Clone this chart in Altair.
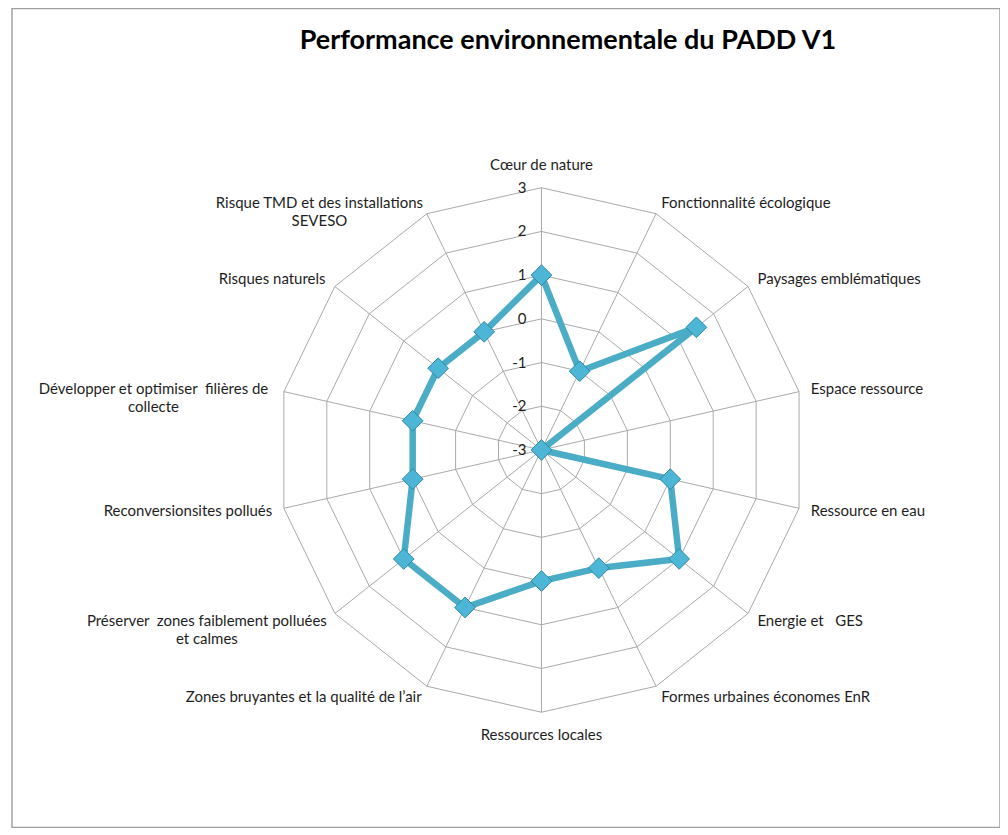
import altair as alt
import pandas as pd

# ---------------- data ----------------
title_text = "Performance environnementale du PADD V1"
categories = [
    "Cœur de nature",
    "Fonctionnalité écologique",
    "Paysages emblématiques",
    "Espace ressource",
    "Ressource en eau",
    "Energie et \u00a0 GES",
    "Formes urbaines économes EnR",
    "Ressources locales",
    "Zones bruyantes et la qualité de l’air",
    "Préserver \u00a0zones faiblement polluées\net calmes",
    "Reconversionsites pollués",
    "Développer et optimiser \u00a0filières de\ncollecte",
    "Risques naturels",
    "Risque TMD et des installations\nSEVESO",
]
values = [1, -1, 1.5, -3, 0, 1, 0, 0, 1, 1, 0, 0, 0, 0]
levels = [-3, -2, -1, 0, 1, 2, 3]

# ---------------- layout / style ----------------
W, H = 989, 820          # view size
CX, CY = 530, 442        # radar centre inside the view (px)
UX, UY = 44.08, 43.75    # px per unit on x / y
CHARW = 6.6              # approx label char width (px) for centring multi-line labels
FONT = "Lato"
FS = 15
GRID = "#a9a9a9"
LINE = "#4bacc6"
TXT = "#1e1e1e"

n = len(categories)
LMIN = levels[0]
RMAX = levels[-1] - levels[0]

base = pd.DataFrame({"idx": list(range(n)), "cat": categories, "value": values})
series = pd.concat([base, base.iloc[[0]]]).reset_index(drop=True)
series["ord"] = list(range(n + 1))
rings = pd.DataFrame(
    [(lv, k) for lv in levels[1:] for k in range(n + 1)], columns=["level", "ord"]
)
ticks = pd.DataFrame({"level": levels})

xs = alt.Scale(domain=[-CX / UX, (W - CX) / UX], nice=False, zero=False)
ys = alt.Scale(domain=[-(H - CY) / UY, CY / UY], nice=False, zero=False)


def X(f):
    return alt.X(f, type="quantitative", scale=xs, axis=None)


def Y(f):
    return alt.Y(f, type="quantitative", scale=ys, axis=None)


ANG = f"datum.ord * 2 * PI / {n}"
ANGI = f"datum.idx * 2 * PI / {n}"

ring_layer = (
    alt.Chart(rings)
    .transform_calculate(ang=ANG, r=f"datum.level - ({LMIN})")
    .transform_calculate(px="datum.r * sin(datum.ang)", py="datum.r * cos(datum.ang)")
    .mark_line(color=GRID, strokeWidth=1)
    .encode(x=X("px"), y=Y("py"), order="ord:Q", detail="level:N")
)

spoke_layer = (
    alt.Chart(base)
    .transform_calculate(ang=ANGI, x0="0", y0="0")
    .transform_calculate(x1=f"{RMAX} * sin(datum.ang)", y1=f"{RMAX} * cos(datum.ang)")
    .mark_rule(color=GRID, strokeWidth=1)
    .encode(x=X("x0"), y=Y("y0"), x2="x1:Q", y2="y1:Q")
)

series_layer = (
    alt.Chart(series)
    .transform_calculate(ang=ANG, r=f"datum.value - ({LMIN})")
    .transform_calculate(px="datum.r * sin(datum.ang)", py="datum.r * cos(datum.ang)")
    .mark_line(color=LINE, strokeWidth=6.5, strokeJoin="round")
    .encode(x=X("px"), y=Y("py"), order="ord:Q")
)

point_layer = (
    alt.Chart(base)
    .transform_calculate(ang=ANGI, r=f"datum.value - ({LMIN})")
    .transform_calculate(px="datum.r * sin(datum.ang)", py="datum.r * cos(datum.ang)")
    .mark_point(
        shape="diamond", filled=True, size=430, fill="#4db6d6",
        stroke="#2c88a6", strokeWidth=1, opacity=1,
    )
    .encode(x=X("px"), y=Y("py"))
)

tick_layer = (
    alt.Chart(ticks)
    .transform_calculate(px="0", py=f"datum.level - ({LMIN})", lbl="'' + datum.level")
    .mark_text(align="right", baseline="middle", dx=-15, font=FONT, fontSize=FS, color=TXT)
    .encode(x=X("px"), y=Y("py"), text="lbl:N")
)

lab_base = (
    alt.Chart(base)
    .transform_calculate(ang=ANGI)
    .transform_calculate(s="sin(datum.ang)", c="cos(datum.ang)")
    .transform_calculate(off="abs(datum.s) < 0.01 ? 23 : 12")
    .transform_calculate(
        lx=f"{RMAX} * datum.s + datum.off * datum.s / {UX}",
        ly=f"{RMAX} * datum.c + datum.off * datum.c / {UY}",
        multi="indexof(datum.cat, '\\n') >= 0",
        lines="split(datum.cat, '\\n')",
    )
    .transform_calculate(maxlen="max(length(datum.lines[0]), length(peek(datum.lines)))")
    .transform_calculate(lxc=f"datum.lx - datum.maxlen * {CHARW} / 2 / {UX}")
)

txt_kw = dict(baseline="middle", font=FONT, fontSize=FS, color=TXT, lineBreak="\n", lineHeight=18.5)

lab_right = lab_base.transform_filter("datum.s > 0.01").mark_text(align="left", **txt_kw).encode(
    x=X("lx"), y=Y("ly"), text="cat:N")
lab_center = lab_base.transform_filter("abs(datum.s) <= 0.01").mark_text(align="center", **txt_kw).encode(
    x=X("lx"), y=Y("ly"), text="cat:N")
lab_left = lab_base.transform_filter("datum.s < -0.01 && !datum.multi").mark_text(align="right", **txt_kw).encode(
    x=X("lx"), y=Y("ly"), text="cat:N")
lab_left_multi = lab_base.transform_filter("datum.s < -0.01 && datum.multi").mark_text(align="center", **txt_kw).encode(
    x=X("lxc"), y=Y("ly"), text="cat:N")

chart = (
    alt.layer(
        ring_layer, spoke_layer, series_layer, point_layer, tick_layer,
        lab_right, lab_center, lab_left, lab_left_multi,
    )
    .properties(
        width=W,
        height=H,
        title=alt.Title(
            title_text, font=FONT, fontSize=27, fontWeight="bold", color="#000000",
            anchor="middle", frame="group", baseline="middle", offset=0, dx=62, dy=60,
        ),
        autosize=alt.AutoSizeParams(type="none"),
        padding={"left": 4, "top": 0, "right": 0, "bottom": 0},
    )
    .configure_view(stroke="#a0a0a0", strokeWidth=1.5)
)

chart.save("out.html", embed_options={"renderer": "svg", "actions": False})
